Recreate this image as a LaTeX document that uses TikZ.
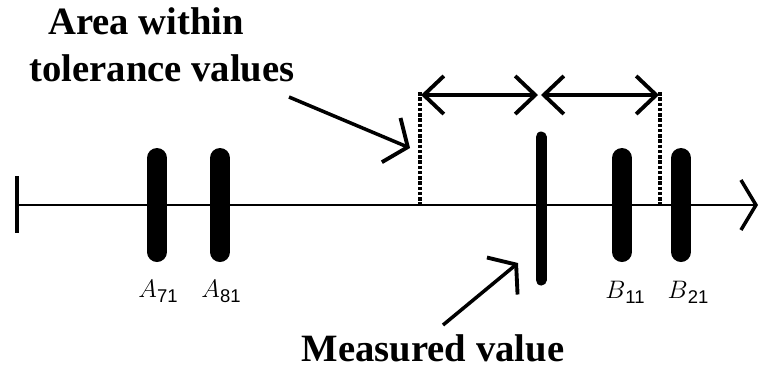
\documentclass[tikz,border=0pt]{standalone}
\usepackage{fontspec}
\setmainfont{Liberation Serif}
\newfontfamily\subfont{Liberation Sans}
\usetikzlibrary{arrows.meta}

\begin{document}
\begin{tikzpicture}[x=0.2mm,y=-0.2mm,>={Straight Barb[length=3.6mm,width=9.6mm,line width=2.2pt]},
    bigtext/.style={font=\fontsize{22}{26}\selectfont\bfseries,anchor=base,inner sep=0pt},
    barlabel/.style={font=\fontsize{15}{18}\selectfont,anchor=base,inner sep=0pt},
    bar/.style={line width=4mm,line cap=round},
    tolline/.style={dash pattern=on 0.7mm off 0.35mm,line width=0.7mm}]
            \newcommand{\barsub}[2]{$#1$\raisebox{-0.45ex}{\subfont\fontsize{10.5}{12}\selectfont #2}}
            \useasboundingbox (0,0) rectangle (759,375);
            % axis
            \coordinate (start) at (17,205);
            \coordinate (end) at (758,205);
            \draw [line width=1.5pt,-{Straight Barb[length=3mm,width=10mm,line width=2pt]}] (start) -- (end);
            \draw [line width=2pt] (17,176) -- (17,233);
            % bars
            \foreach \x/\name in {157/a71,220/a81,622/b11,681/b21}
                \draw [bar] (\x,158) -- (\x,252) coordinate (\name);
            \draw [line width=2.2mm,line cap=round] (541,137) -- (541,280);
            \node [barlabel] (la71) at (158,297) {\barsub{A}{71}};
            \node [barlabel] (la81) at (221,297) {\barsub{A}{81}};
            \node [barlabel] (lb11) at (625,298) {\barsub{B}{11}};
            \node [barlabel] (lb21) at (688,298) {\barsub{B}{21}};
            % tolerance
            \coordinate (tolL) at (420,92);
            \coordinate (tolR) at (660,92);
            \draw [tolline] (tolL) -- (420,204);
            \draw [tolline] (tolR) -- (660,204);
            \coordinate (arL) at (421,95);
            \coordinate (arML) at (538,95);
            \coordinate (arMR) at (541,95);
            \coordinate (arR) at (659,95);
            \draw [line width=2pt,<->,>={Straight Barb[length=4mm,width=7.6mm,line width=2.2pt]}] (arL) -- (arML);
            \draw [line width=2pt,<->,>={Straight Barb[length=4mm,width=7.6mm,line width=2.2pt]}] (arMR) -- (arR);
            % texts
            \node [bigtext] (area) at (146,34) {Area within};
            \node [bigtext] (tolval) at (162,81) {tolerance values};
            \node [bigtext] (meas) at (433,361) {Measured value};
            \coordinate (p1) at (289,97);
            \coordinate (q1) at (410,148);
            \coordinate (p2) at (443,325);
            \coordinate (q2) at (518,263);
            \draw [line width=2pt,->] (p1) -- (q1);
            \draw [line width=2pt,->] (p2) -- (q2);
        \end{tikzpicture}
\end{document}
